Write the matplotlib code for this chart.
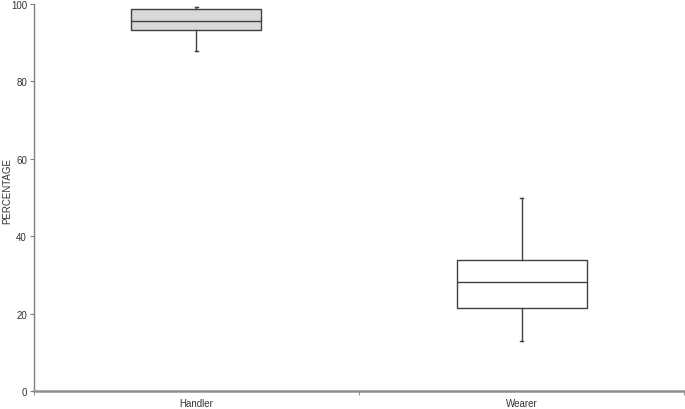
import matplotlib
matplotlib.use("Agg")
import matplotlib.pyplot as plt

# box statistics
groups = ["Handler", "Wearer"]
whisker_low = [87.7, 13.0]
q1 = [93.3, 21.5]
median = [95.4, 28.1]
q3 = [98.5, 34.0]
whisker_high = [99.2, 49.9]
fills = ["#d9d9d9", "#ffffff"]

plt.rcParams["font.family"] = ["Liberation Sans", "DejaVu Sans"]

fig = plt.figure(figsize=(6.85, 4.1), dpi=100)
ax = fig.add_axes([0.0496, 0.0427, 0.949, 0.9463])

stats = []
for i, g in enumerate(groups):
    stats.append(dict(label=g, whislo=whisker_low[i], q1=q1[i], med=median[i],
                      q3=q3[i], whishi=whisker_high[i], fliers=[]))

edge = "#404040"
bp = ax.bxp(stats, positions=[0.5, 1.5], widths=0.4, patch_artist=True,
            showfliers=False, capwidths=0.01,
            boxprops=dict(edgecolor=edge, linewidth=1.0),
            medianprops=dict(color=edge, linewidth=1.0),
            whiskerprops=dict(color=edge, linewidth=1.0),
            capprops=dict(color=edge, linewidth=1.0))
for patch, c in zip(bp["boxes"], fills):
    patch.set_facecolor(c)

ax.set_xlim(0, 2)
ax.set_ylim(0, 100)
ax.set_yticks([0, 20, 40, 60, 80, 100])
ax.set_xticks([0.5, 1.5])
ax.set_xticklabels(groups)
ax.set_xticks([0, 1, 2], minor=True)
ax.tick_params(axis="x", which="major", length=0, pad=5, labelsize=7, colors="#333333")
ax.tick_params(axis="x", which="minor", length=3, color="#808080")
ax.tick_params(axis="y", length=3, color="#808080", labelsize=7, labelcolor="#333333", pad=2)
ax.set_ylabel("PERCENTAGE", fontsize=7, color="#333333")
ax.yaxis.set_label_coords(-0.034, 0.52)

for s in ["top", "right"]:
    ax.spines[s].set_visible(False)
ax.spines["left"].set_color("#808080")
ax.spines["left"].set_linewidth(1.0)
ax.spines["bottom"].set_color("#909090")
ax.spines["bottom"].set_linewidth(1.8)

fig.savefig("out.png", dpi=100)
